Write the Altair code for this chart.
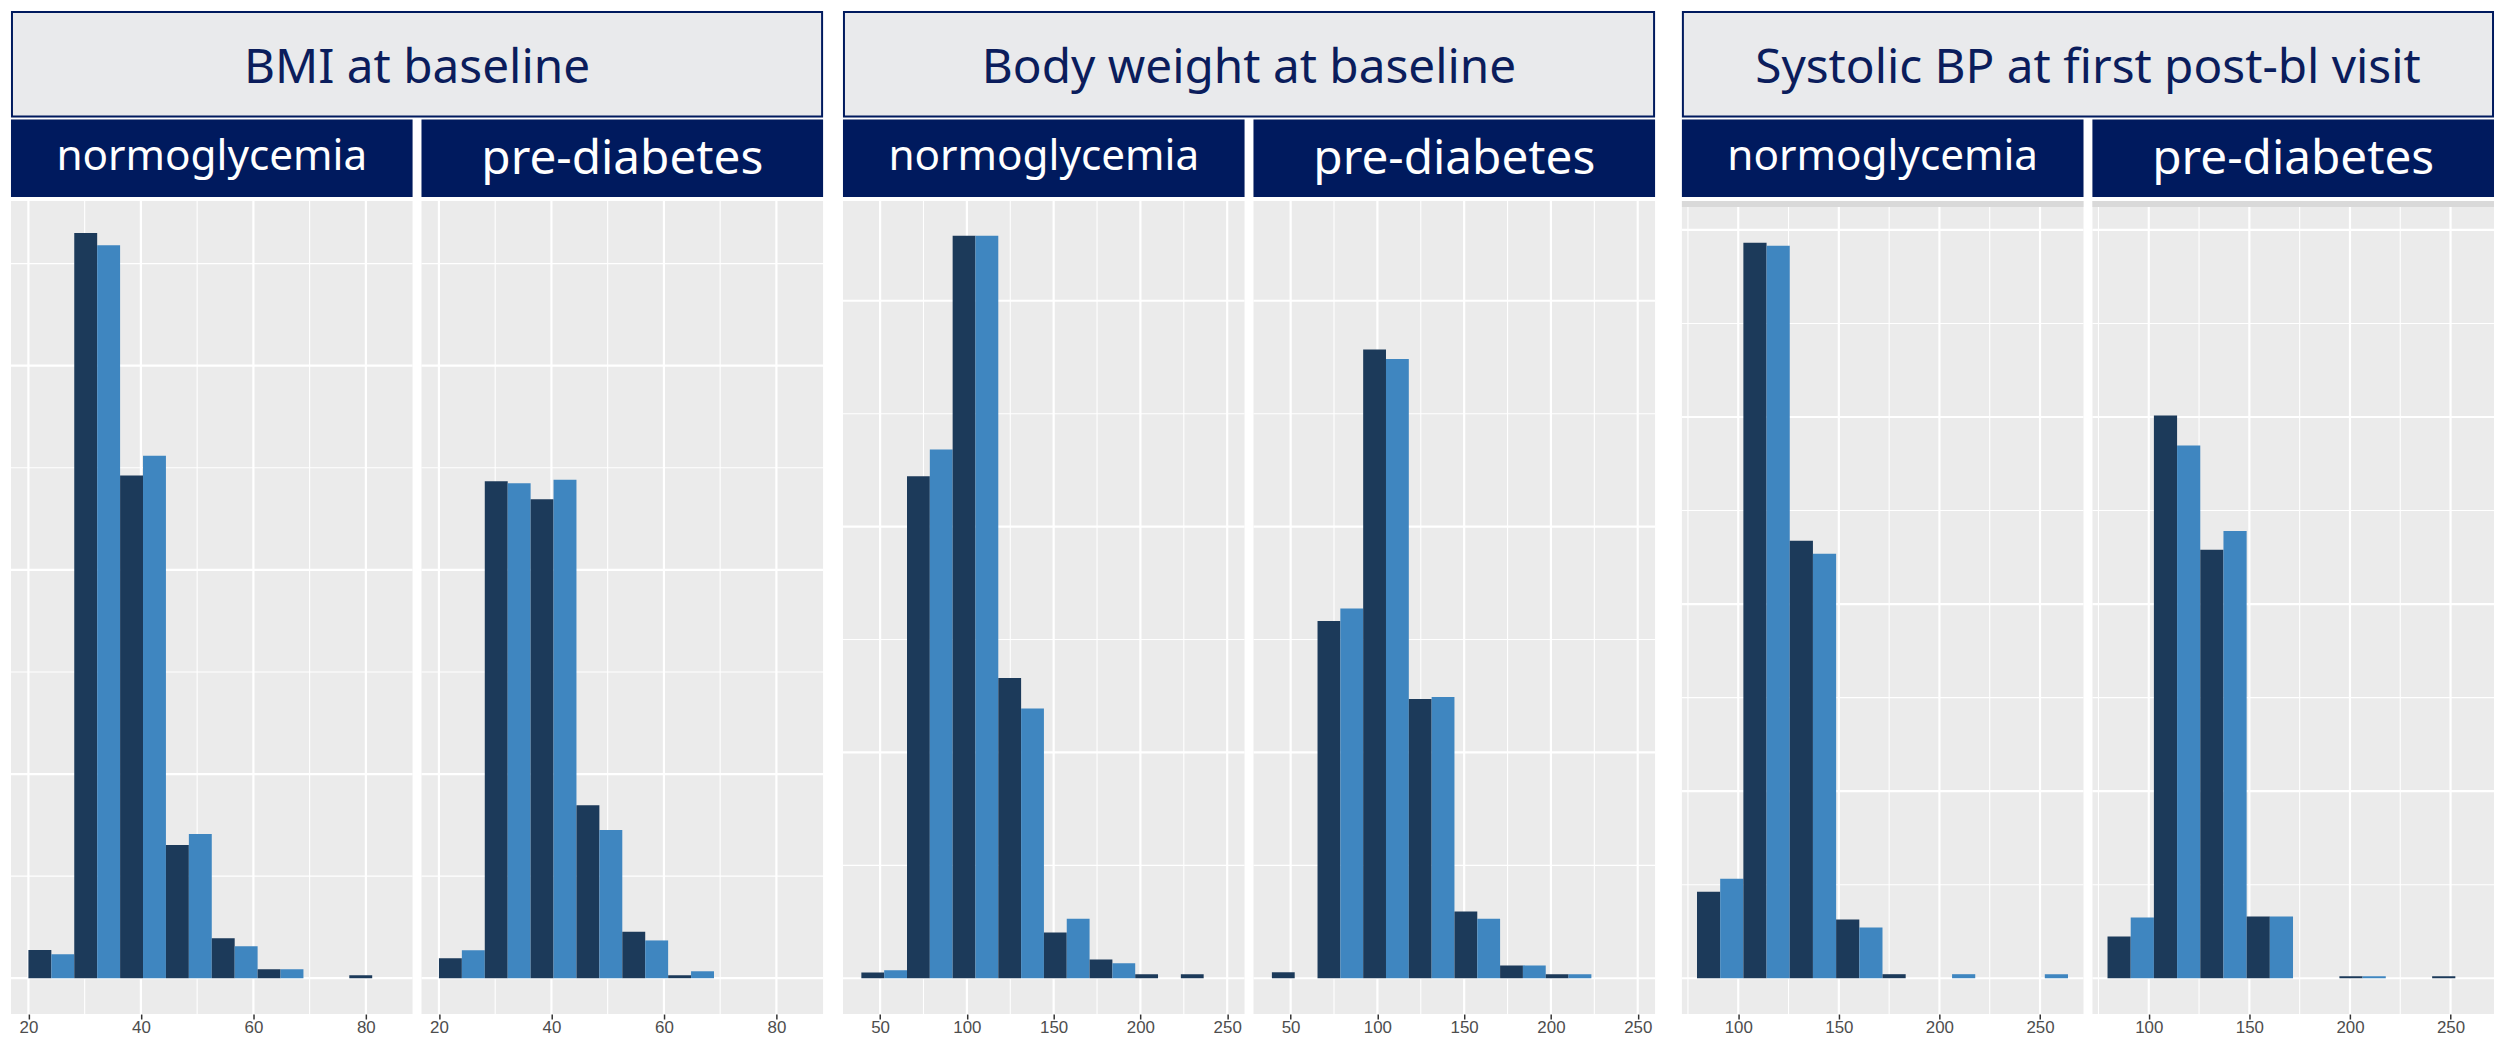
import altair as alt
import pandas as pd

# ---------------- data ----------------
TITLES = ["BMI at baseline", "Body weight at baseline", "Systolic BP at first post-bl visit"]
PANELS = ["normoglycemia", "pre-diabetes"]
SERIES = ["series 1", "series 2"]

# histogram bin edges (8 bins per variable)
bmi_edges = [20.0, 28.15, 36.3, 44.45, 52.6, 60.75, 68.9, 77.05, 85.2]
weight_edges = [39.2, 65.5, 91.8, 118.1, 144.4, 170.7, 197.0, 223.3, 249.6]
sbp_edges = [79.5, 102.55, 125.6, 148.65, 171.7, 194.75, 217.8, 240.85, 263.9]

# bar heights (relative frequency)
bmi_normo_s1 = [2.76, 73.0, 49.24, 13.05, 3.92, 0.88, 0.0, 0.29]
bmi_normo_s2 = [2.34, 71.79, 51.19, 14.12, 3.12, 0.88, 0.0, 0.0]
bmi_pre_s1 = [1.95, 48.69, 46.93, 16.94, 4.55, 0.29, 0.0, 0.0]
bmi_pre_s2 = [2.73, 48.49, 48.83, 14.51, 3.70, 0.68, 0.0, 0.0]

weight_normo_s1 = [0.50, 44.45, 65.76, 26.58, 4.05, 1.67, 0.35, 0.35]
weight_normo_s2 = [0.70, 46.83, 65.76, 23.90, 5.28, 1.32, 0.0, 0.0]
weight_pre_s1 = [0.53, 31.64, 55.68, 24.74, 5.92, 1.14, 0.35, 0.0]
weight_pre_s2 = [0.0, 32.75, 54.84, 24.91, 5.28, 1.14, 0.35, 0.0]

sbp_normo_s1 = [9.25, 78.64, 46.76, 6.27, 0.43, 0.0, 0.0, 0.0]
sbp_normo_s2 = [10.63, 78.32, 45.38, 5.42, 0.0, 0.43, 0.0, 0.43]
sbp_pre_s1 = [4.46, 60.15, 45.80, 6.59, 0.0, 0.21, 0.0, 0.21]
sbp_pre_s2 = [6.48, 56.96, 47.82, 6.59, 0.0, 0.21, 0.0, 0.0]

# axes
bmi_x_domain = [16.9, 88.3]
bmi_x_ticks = [20, 40, 60, 80]
bmi_x_minor = [30, 50, 70]
weight_x_domain = [28.6, 260.0]
weight_x_ticks = [50, 100, 150, 200, 250]
weight_x_minor = [75, 125, 175, 225]
sbp_x_domain = [72.0, 271.6]
sbp_x_ticks = [100, 150, 200, 250]
sbp_x_minor = [75, 125, 175, 225]

bmi_y_domain = [-3.51, 76.14]
weight_y_domain = [-3.17, 68.84]
sbp_y_domain = [-3.83, 83.10]
y_major = [0, 20, 40, 60, 80]
y_minor = [10, 30, 50, 70]

# ---------------- style ----------------
NAVY = "#001A5E"
TITLE_FILL = "#E9EAEC"
TITLE_TEXT = "#0B1D5C"
DARK = "#1C3A5A"
LIGHT = "#3F86C0"
PANEL_BG = "#EBEBEB"

W = 404      # panel width
S = 9        # gap between the two panels of a group
TH = 107     # group title height
HH = 78      # panel header height
PH = 818     # panel height
HEADER_FONT = {"normoglycemia": (42.5, 51), "pre-diabetes": (48, 55)}  # size, baseline


def bars_df(edges, s1, s2):
    rows = []
    for i in range(len(s1)):
        lo, hi = edges[i], edges[i + 1]
        mid = (lo + hi) / 2
        rows.append({"start": lo, "end": mid, "value": s1[i], "base": 0.0, "series": SERIES[0]})
        rows.append({"start": mid, "end": hi, "value": s2[i], "base": 0.0, "series": SERIES[1]})
    return pd.DataFrame(rows)


def panel(edges, s1, s2, xdom, xmaj, xmin, ydom, band=False):
    xs = alt.Scale(domain=xdom, nice=False, zero=False)
    ys = alt.Scale(domain=ydom, nice=False, zero=False)
    xax = alt.Axis(values=xmaj, grid=False, domain=False, ticks=True, tickSize=5,
                   tickWidth=1.5, tickColor="#333333", labelColor="#4D4D4D",
                   labelFontSize=17, labelFont="Liberation Sans", labelPadding=1,
                   labelFlush=False, title=None, format="d")
    ymaj = [v for v in y_major if ydom[0] <= v <= ydom[1]]
    ymin = [v for v in y_minor if ydom[0] <= v <= ydom[1]]

    def X(f):
        return alt.X(f, type="quantitative", scale=xs, axis=xax)

    def Y(f):
        return alt.Y(f, type="quantitative", scale=ys, axis=None)

    layers = [
        alt.Chart(pd.DataFrame({"v": xmin})).mark_rule(color="white", strokeWidth=1.1).encode(x=X("v")),
        alt.Chart(pd.DataFrame({"v": ymin})).mark_rule(color="white", strokeWidth=1.1).encode(y=Y("v")),
        alt.Chart(pd.DataFrame({"v": xmaj})).mark_rule(color="white", strokeWidth=2.2).encode(x=X("v")),
        alt.Chart(pd.DataFrame({"v": ymaj})).mark_rule(color="white", strokeWidth=2.2).encode(y=Y("v")),
        alt.Chart(bars_df(edges, s1, s2)).mark_rect(clip=True).encode(
            x=X("start"), x2="end", y=Y("value"), y2="base",
            color=alt.Color("series:N", scale=alt.Scale(domain=SERIES, range=[DARK, LIGHT]), legend=None),
        ),
    ]
    if band:
        layers.append(
            alt.Chart(pd.DataFrame({"a": [0]})).mark_rect(color="#D9D9D9").encode(
                x=alt.value(0), x2=alt.value(W), y=alt.value(0), y2=alt.value(6))
        )
    return alt.layer(*layers).properties(width=W, height=PH)


def header(text):
    size, base = HEADER_FONT[text]
    d = pd.DataFrame({"label": [text]})
    box = alt.Chart(d).mark_rect(color=NAVY).encode(
        x=alt.value(0), x2=alt.value(W), y=alt.value(0), y2=alt.value(HH))
    txt = alt.Chart(d).mark_text(color="white", font="Noto Sans", fontSize=size,
                                 align="center", baseline="alphabetic").encode(
        x=alt.value(W / 2), y=alt.value(base), text="label:N")
    return alt.layer(box, txt).properties(width=W, height=HH)


def title_box(text):
    tw = 2 * W + S
    d = pd.DataFrame({"label": [text]})
    box = alt.Chart(d).mark_rect(fill=TITLE_FILL, stroke=NAVY, strokeWidth=2).encode(
        x=alt.value(1), x2=alt.value(tw - 1), y=alt.value(1), y2=alt.value(TH - 1))
    txt = alt.Chart(d).mark_text(color=TITLE_TEXT, font="Noto Sans", fontSize=48,
                                 align="center", baseline="alphabetic").encode(
        x=alt.value(tw / 2), y=alt.value(72), text="label:N")
    return alt.layer(box, txt).properties(width=tw, height=TH)


def group(title, p1, p2):
    hdr = alt.hconcat(header(PANELS[0]), header(PANELS[1]), spacing=S, bounds="flush")
    pnl = alt.hconcat(p1, p2, spacing=S, bounds="flush")
    return alt.vconcat(title_box(title), hdr, pnl, spacing=2)


g1 = group(
    TITLES[0],
    panel(bmi_edges, bmi_normo_s1, bmi_normo_s2, bmi_x_domain, bmi_x_ticks, bmi_x_minor, bmi_y_domain),
    panel(bmi_edges, bmi_pre_s1, bmi_pre_s2, bmi_x_domain, bmi_x_ticks, bmi_x_minor, bmi_y_domain),
)
g2 = group(
    TITLES[1],
    panel(weight_edges, weight_normo_s1, weight_normo_s2, weight_x_domain, weight_x_ticks,
          weight_x_minor, weight_y_domain),
    panel(weight_edges, weight_pre_s1, weight_pre_s2, weight_x_domain, weight_x_ticks,
          weight_x_minor, weight_y_domain),
)
g3 = group(
    TITLES[2],
    panel(sbp_edges, sbp_normo_s1, sbp_normo_s2, sbp_x_domain, sbp_x_ticks, sbp_x_minor,
          sbp_y_domain, band=True),
    panel(sbp_edges, sbp_pre_s1, sbp_pre_s2, sbp_x_domain, sbp_x_ticks, sbp_x_minor,
          sbp_y_domain, band=True),
)

chart = (
    alt.hconcat(g1, alt.hconcat(g2, g3, spacing=23), spacing=16)
    .properties(padding={"left": 1, "top": 0, "right": 0, "bottom": 0}, background="white")
    .configure_view(stroke=None, fill=PANEL_BG)
)

chart.save("out.html", embed_options={"renderer": "svg", "actions": False})
